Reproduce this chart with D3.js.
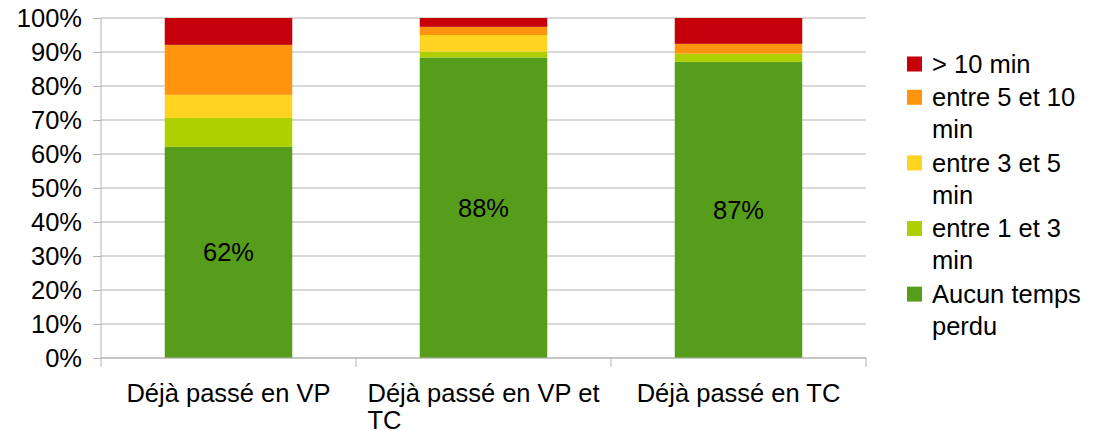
<!DOCTYPE html>
<html>
<head>
<meta charset="utf-8">
<script src="https://cdn.jsdelivr.net/npm/d3@7"></script>
<style>
  body { margin: 0; background: #fff; }
  text { font-family: "Liberation Sans", Arial, sans-serif; fill: #000; }
</style>
</head>
<body>
<div id="chart"></div>
<script>
// categories and series (percent of each bar)
var categories = ["Déjà passé en VP", "Déjà passé en VP et TC", "Déjà passé en TC"];
var seriesNames = ["Aucun temps perdu", "entre 1 et 3 min", "entre 3 et 5 min", "entre 5 et 10 min", "> 10 min"];
var seriesColors = ["#579d1c", "#aecf00", "#ffd320", "#ff950e", "#c5000b"];
var aucun = [62.1, 88.4, 87.1];
var entre1et3 = [8.5, 1.7, 2.4];
var entre3et5 = [6.8, 4.9, 0];
var entre5et10 = [14.7, 2.4, 2.9];
var plus10 = [7.9, 2.6, 7.6];
var yTicks = [0, 10, 20, 30, 40, 50, 60, 70, 80, 90, 100];

var svgWidth = 1099;
var svgHeight = 430;

var chartMargin = { top: 18, right: 233, bottom: 72, left: 101 };
var chartWidth = svgWidth - chartMargin.left - chartMargin.right;
var chartHeight = svgHeight - chartMargin.top - chartMargin.bottom;
var fontSize = 25.5;

var svg = d3.select("#chart")
    .append("svg")
    .attr("width", svgWidth)
    .attr("height", svgHeight);

var chartGroup = svg.append("g")
    .attr("transform", `translate(${chartMargin.left}, ${chartMargin.top})`);

// build table for the stack
var allSeries = [aucun, entre1et3, entre3et5, entre5et10, plus10];
var table = categories.map(function(c, i) {
    var row = { category: c };
    seriesNames.forEach(function(s, j) { row[s] = allSeries[j][i]; });
    return row;
});
var stacked = d3.stack().keys(seriesNames)(table);

var xScale = d3.scaleBand()
    .domain(categories)
    .range([0, chartWidth])
    .paddingInner(0.5)
    .paddingOuter(0.25);

var yScale = d3.scaleLinear()
    .domain([0, 100])
    .range([chartHeight, 0]);

// horizontal grid
chartGroup.append("g")
    .selectAll("line")
    .data(yTicks)
    .enter()
    .append("line")
    .attr("x1", 0)
    .attr("x2", chartWidth)
    .attr("y1", d => yScale(d))
    .attr("y2", d => yScale(d))
    .attr("stroke", "#b3b3b3")
    .attr("stroke-width", 1);

// y axis
var leftAxis = d3.axisLeft(yScale)
    .tickValues(yTicks)
    .tickSize(8)
    .tickPadding(11)
    .tickFormat(d => d + "%");
var yAxis = chartGroup.append("g").call(leftAxis);
yAxis.select(".domain").attr("stroke", "#b3b3b3").attr("d", `M0,0V${chartHeight}`);
yAxis.selectAll(".tick line").attr("stroke", "#b3b3b3");
yAxis.selectAll(".tick text")
    .style("font-size", fontSize + "px")
    .attr("font-family", "Liberation Sans")
    .attr("fill", "#000");

// bars
var layers = chartGroup.selectAll(".layer")
    .data(stacked)
    .enter()
    .append("g")
    .attr("class", "layer")
    .attr("fill", (d, i) => seriesColors[i]);

layers.selectAll("rect")
    .data(d => d)
    .enter()
    .append("rect")
    .attr("x", d => xScale(d.data.category))
    .attr("y", d => yScale(d[1]))
    .attr("width", xScale.bandwidth())
    .attr("height", d => yScale(d[0]) - yScale(d[1]));

// value labels on the first series
chartGroup.selectAll(".value-label")
    .data(stacked[0])
    .enter()
    .append("text")
    .attr("class", "value-label")
    .attr("x", d => xScale(d.data.category) + xScale.bandwidth() / 2)
    .attr("y", d => yScale((d[0] + d[1]) / 2))
    .attr("dy", "0.35em")
    .attr("text-anchor", "middle")
    .style("font-size", fontSize + "px")
    .text(d => Math.round(d[1] - d[0]) + "%");

// x axis line and category separators
chartGroup.append("line")
    .attr("x1", 0)
    .attr("x2", chartWidth)
    .attr("y1", chartHeight)
    .attr("y2", chartHeight)
    .attr("stroke", "#b3b3b3");

var bounds = d3.range(categories.length + 1).map(i => i * chartWidth / categories.length);
chartGroup.selectAll(".xsep")
    .data(bounds)
    .enter()
    .append("line")
    .attr("x1", d => d)
    .attr("x2", d => d)
    .attr("y1", chartHeight)
    .attr("y2", chartHeight + 9)
    .attr("stroke", "#b3b3b3");

// wrap helper: splits words into lines that fit maxWidth
function wrapLines(textSel, words, maxWidth) {
    var lines = [];
    var current = [];
    words.forEach(function(w) {
        var test = current.concat([w]).join(" ");
        textSel.text(test);
        if (textSel.node().getComputedTextLength() > maxWidth && current.length) {
            lines.push(current.join(" "));
            current = [w];
        } else {
            current.push(w);
        }
    });
    if (current.length) lines.push(current.join(" "));
    textSel.text("");
    return lines;
}

// category labels (block centered, lines left aligned)
var bandW = chartWidth / categories.length;
categories.forEach(function(c, i) {
    var t = chartGroup.append("text")
        .style("font-size", fontSize + "px");
    var lines = wrapLines(t, c.split(" "), bandW - 10);
    var widths = lines.map(function(l) { t.text(l); return t.node().getComputedTextLength(); });
    t.text("");
    var blockW = d3.max(widths);
    var cx = xScale(c) + xScale.bandwidth() / 2;
    lines.forEach(function(l, k) {
        t.append("tspan")
            .attr("x", cx - blockW / 2)
            .attr("y", chartHeight + 44 + k * 27)
            .text(l);
    });
});

// legend, top item = last series
var legendGroup = svg.append("g")
    .attr("transform", "translate(907, 0)");
var legendOrder = seriesNames.map((s, i) => i).reverse();
var lineY = 64;
legendOrder.forEach(function(si) {
    legendGroup.append("rect")
        .attr("x", 0)
        .attr("y", lineY - 7.5)
        .attr("width", 15)
        .attr("height", 15)
        .attr("fill", seriesColors[si]);
    var t = legendGroup.append("text")
        .style("font-size", fontSize + "px");
    var lines = wrapLines(t, seriesNames[si].split(" "), 165);
    lines.forEach(function(l, k) {
        t.append("tspan")
            .attr("x", 25)
            .attr("y", lineY + k * 32)
            .attr("dy", "0.35em")
            .text(l);
    });
    lineY += lines.length * 32.3 + 1;
});
</script>
</body>
</html>
